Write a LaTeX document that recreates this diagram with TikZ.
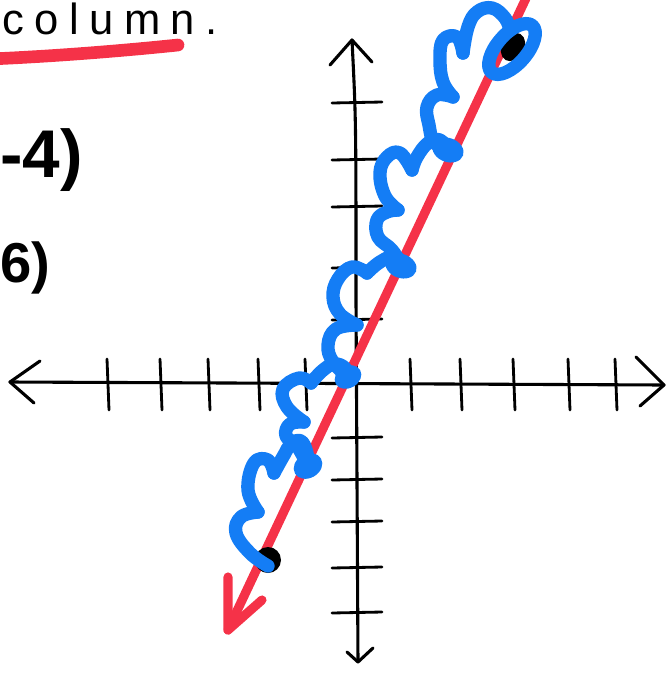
\documentclass[tikz,border=0pt]{standalone}
\usepackage{fontspec}
\setmainfont{Liberation Sans}
\usetikzlibrary{calc}
\definecolor{penred}{RGB}{245,50,72}
\definecolor{penblue}{RGB}{20,125,245}

\begin{document}
\begin{tikzpicture}[x=0.025cm, y=-0.025cm, line cap=round, line join=round,
    axisline/.style={black, line width=2.2pt},
    tickmark/.style={black, line width=2pt},
    redpen/.style={penred, line width=6.5pt},
    bluepen/.style={penblue, line width=9.5pt},
    blob/.style={penblue}]
    \useasboundingbox (0,0) rectangle (670,673);

    % handwritten notes at the left edge
    \node[anchor=base west, inner sep=0pt, font=\fontsize{31pt}{36pt}\selectfont\addfontfeatures{LetterSpace=24}] (word) at (2,34) {column.};
    \draw[redpen, line width=9pt] (-10,59) .. controls (60,56) and (130,50) .. (178,45);
    \node[anchor=west, inner sep=0pt, font=\bfseries\fontsize{48pt}{54pt}\selectfont] (ptA) at (0,160) {-4)};
    \node[anchor=west, inner sep=0pt, font=\bfseries\fontsize{40pt}{46pt}\selectfont] (ptB) at (0,268) {6)};

    % axes
    \coordinate (xl) at (10,382);
    \coordinate (xr) at (664,385);
    \coordinate (yt) at (352,40);
    \coordinate (yb) at (358,662);
    \draw[axisline] (xl) -- (xr);
    \draw[axisline] (yt) .. controls (356,120) .. (356,300) -- (yb);
    \draw[axisline] (40,361) -- (xl) -- (34,403);
    \draw[axisline] (636,357) -- (xr) -- (640,406);
    \draw[axisline] (330,65) -- (yt) -- (372,62);
    \draw[axisline] (347,652) -- (yb) -- (373,648);
    \foreach \tx in {107,160,208,258,305,410,460,513,568,615}
        \draw[tickmark] (\tx,359) -- (\tx+2,410);
    \foreach \ty in {103,160,207,268,320,438,480,522,568,613}
        \draw[tickmark] (332,\ty) -- (382,\ty-1);

    % the line and its arrow
    \coordinate (top) at (528,-6);
    \coordinate (tip) at (228,630);
    \draw[redpen] (top) -- (tip);
    \draw[redpen] (228,577) -- (tip) -- (262,600);

    % the two points
    \fill (268,560) circle (13);
    \fill[rotate around={60:(513,47)}] (513,47) ellipse [x radius=15, y radius=11];

    % jumps from point to point
    \draw[bluepen] plot[smooth, tension=0.7] coordinates {(268,566) (250,553) (236,533) (241,517) (258,512)};
    \draw[bluepen] plot[smooth, tension=0.7] coordinates {(258,512) (248,490) (254,463) (268,460) (274,473)};
    \draw[bluepen] plot[smooth, tension=0.7] coordinates {(274,473) (284,455) (291,444) (301,441) (307,453) (308,466)};
    \fill[blob, rotate around={30:(308,466)}] (308,466) ellipse [x radius=15, y radius=12];

    \draw[bluepen] plot[smooth, tension=0.7] coordinates {(308,466) (297,446) (286,436) (290,424) (304,422)};
    \draw[bluepen] plot[smooth, tension=0.7] coordinates {(304,422) (287,407) (283,389) (299,378) (311,383)};
    \draw[bluepen] plot[smooth, tension=0.7] coordinates {(311,383) (322,371) (334,364) (345,368) (348,377)};
    \fill[blob, rotate around={30:(348,377)}] (348,377) ellipse [x radius=14, y radius=11];

    \draw[bluepen] plot[smooth, tension=0.7] coordinates {(348,377) (333,362) (328,345) (336,329) (357,325)};
    \draw[bluepen] plot[smooth, tension=0.7] coordinates {(357,325) (340,314) (333,297) (338,279) (352,267) (367,273)};
    \draw[bluepen] plot[smooth, tension=0.7] coordinates {(367,273) (380,262) (395,256) (402,266)};
    \fill[blob, rotate around={-20:(401,266)}] (401,266) ellipse [x radius=16, y radius=12];

    \draw[bluepen] plot[smooth, tension=0.7] coordinates {(402,266) (392,250) (378,237) (377,220) (387,212) (398,210)};
    \draw[bluepen] plot[smooth, tension=0.7] coordinates {(398,210) (385,196) (380,173) (387,157) (400,153) (412,170)};
    \draw[bluepen] plot[smooth, tension=0.7] coordinates {(412,170) (417,157) (428,143) (440,140) (448,150)};
    \fill[blob, rotate around={-20:(448,150)}] (448,150) ellipse [x radius=16, y radius=12];

    \draw[bluepen] plot[smooth, tension=0.7] coordinates {(448,150) (434,142) (429,125) (427,107) (437,95) (453,97)};
    \draw[bluepen] plot[smooth, tension=0.7] coordinates {(453,97) (443,82) (440,60) (443,40) (457,37) (463,53)};
    \draw[bluepen] plot[smooth, tension=0.7] coordinates {(463,53) (468,27) (477,12) (492,8) (505,18) (510,30)};
    \draw[bluepen, rotate around={49:(512,49)}] (512,49) ellipse [x radius=31, y radius=15];
\end{tikzpicture}
\end{document}
